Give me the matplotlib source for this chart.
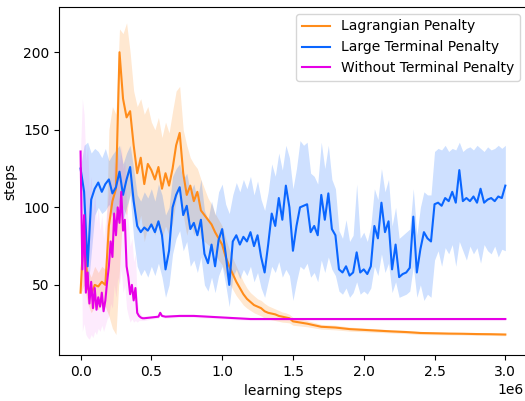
"""Training curves: episode length vs learning steps for three penalty designs."""

import numpy as np
import matplotlib
matplotlib.use("Agg")
import matplotlib.pyplot as plt
from matplotlib.ticker import MultipleLocator

# x in units of 1e6 learning steps
blue_x = [i * 0.025 for i in range(121)]
blue_mean = [125, 110, 62, 105, 112, 116, 110, 115, 118, 109, 113, 123, 108, 118, 126, 104,
             88, 84, 87, 85, 89, 84, 91, 82, 60, 72, 100, 108, 113, 95, 101, 86,
             90, 82, 92, 70, 64, 76, 62, 79, 86, 70, 50, 78, 82, 76, 81, 78,
             84, 75, 82, 68, 58, 76, 96, 88, 106, 92, 114, 100, 72, 88, 100, 101,
             102, 84, 88, 82, 108, 92, 109, 86, 82, 60, 58, 62, 56, 58, 71, 58,
             60, 57, 62, 88, 80, 103, 84, 91, 60, 76, 55, 57, 58, 61, 94, 58,
             73, 84, 80, 78, 102, 103, 101, 106, 104, 110, 103, 124, 104, 106, 104, 107,
             103, 112, 103, 105, 106, 104, 107, 106, 114]
blue_hi = [126, 140, 142, 135, 138, 136, 132, 138, 130, 134, 137, 140, 128, 135, 140, 125,
           108, 104, 110, 106, 112, 104, 115, 108, 95, 100, 120, 125, 128, 118, 122, 110,
           115, 105, 118, 98, 92, 104, 95, 110, 115, 102, 96, 108, 116, 110, 118, 112,
           120, 108, 117, 105, 98, 110, 128, 120, 135, 124, 140, 132, 112, 125, 143, 140,
           142, 122, 120, 115, 142, 125, 140, 118, 112, 85, 80, 92, 78, 82, 115, 80,
           84, 78, 88, 112, 105, 125, 110, 118, 88, 100, 80, 82, 84, 86, 112, 82,
           100, 110, 108, 108, 136, 138, 137, 140, 136, 138, 137, 142, 136, 138, 139, 137,
           140, 138, 136, 139, 137, 138, 140, 138, 140]
blue_lo = [124, 80, 45, 70, 95, 100, 96, 98, 102, 94, 98, 104, 92, 100, 108, 80,
           62, 56, 60, 55, 62, 56, 64, 55, 42, 50, 70, 80, 85, 72, 78, 62,
           66, 58, 68, 50, 46, 55, 45, 56, 62, 50, 36, 55, 60, 54, 60, 56,
           62, 52, 58, 48, 42, 52, 62, 58, 65, 55, 60, 56, 40, 52, 62, 60,
           64, 55, 58, 52, 66, 58, 68, 60, 56, 46, 44, 48, 42, 45, 52, 44,
           46, 44, 48, 62, 56, 70, 58, 64, 45, 52, 42, 43, 44, 46, 62, 42,
           50, 40, 44, 42, 66, 72, 62, 74, 70, 76, 62, 78, 72, 66, 75, 70,
           74, 64, 76, 72, 70, 75, 68, 73, 72]

orange_x = [i * 0.025 for i in range(61)] + [1.6, 1.7, 1.8, 1.9, 2.0, 2.1, 2.2, 2.3,
                                             2.4, 2.5, 2.6, 2.7, 2.8, 2.9, 3.0]
orange_mean = [45, 90, 48, 44, 50, 49, 52, 50, 88, 104, 112, 200, 170, 158, 162, 140,
               122, 132, 115, 128, 124, 118, 126, 112, 122, 114, 125, 140, 148, 122, 108, 114,
               104, 110, 98, 95, 92, 89, 84, 80, 76, 68, 62, 57, 52, 48, 44, 41,
               39, 37, 36, 35, 33, 32, 31.5, 31, 30, 29.5, 29, 28.5, 26.5,
               25, 23, 22.5, 21.5, 21, 20.5, 20, 19.6, 19, 18.8, 18.6, 18.5, 18.3, 18.2, 18]
orange_hi = [46, 95, 60, 55, 62, 58, 62, 60, 150, 165, 160, 215, 212, 219, 200, 175,
             165, 170, 160, 165, 155, 150, 158, 145, 155, 148, 162, 175, 178, 150, 140, 132,
             128, 125, 118, 112, 106, 102, 96, 92, 88, 80, 73, 67, 62, 57, 52, 48,
             45, 43, 41, 40, 38, 36.5, 35.5, 34.5, 33.5, 32.5, 32, 31, 29,
             27, 24.5, 24, 22.8, 22.2, 21.6, 21, 20.6, 20, 19.7, 19.4, 19.3, 19.1, 19, 18.8]
orange_lo = [44, 50, 38, 32, 36, 34, 38, 36, 30, 22, 18, 60, 100, 95, 110, 100,
             85, 95, 78, 88, 90, 82, 92, 80, 88, 82, 90, 105, 115, 95, 82, 92,
             82, 90, 80, 78, 76, 74, 70, 66, 63, 56, 51, 47, 43, 40, 37, 35,
             33.5, 32, 31, 30, 28.5, 28, 27.5, 27, 26.5, 26, 25.8, 25.5, 24,
             23, 21.5, 21, 20.2, 19.8, 19.4, 19, 18.6, 18, 17.9, 17.8, 17.7, 17.5, 17.4, 17.2]

magenta_x = [i * 0.0125 for i in range(37)] + [0.5, 0.55, 0.5625, 0.575, 0.6, 0.7, 0.8,
                                               0.9, 1.0, 1.1, 1.2, 1.4, 1.6, 1.8, 2.0,
                                               2.2, 2.4, 2.6, 2.8, 3.0]
magenta_mean = [136, 60, 95, 45, 58, 38, 52, 35, 48, 34, 42, 36, 45, 33, 40, 52,
                62, 78, 68, 96, 82, 100, 90, 110, 85, 92, 62, 55, 44, 50, 40, 48,
                32, 30, 29, 28.5, 28.5,
                29, 29.5, 32, 30, 29.5, 30, 30, 29.5, 29, 28.5, 28, 28, 28, 28, 28,
                28, 28, 28, 28, 28]
magenta_hi = [137, 170, 160, 130, 140, 110, 120, 95, 110, 90, 100, 85, 95, 80, 90, 100,
              110, 120, 112, 130, 125, 135, 128, 140, 125, 130, 100, 90, 75, 80, 65, 70,
              40, 34, 31, 30, 30,
              30, 30.5, 33, 31, 30.5, 31, 31, 30.5, 30, 29.5, 29, 29, 29, 29, 29,
              29, 29, 29, 29, 29]
magenta_lo = [135, 20, 25, 18, 16, 15, 18, 16, 20, 18, 22, 20, 24, 20, 24, 28,
              30, 38, 35, 50, 42, 55, 50, 60, 45, 50, 35, 30, 26, 28, 26, 27,
              26, 27, 27, 27, 27,
              28, 28.5, 31, 29, 28.5, 29, 29, 28.5, 28, 27.5, 27, 27, 27, 27, 27,
              27, 27, 27, 27, 27]

SERIES = [
    ("Lagrangian Penalty", "#ff8c1a", orange_x, orange_mean, orange_lo, orange_hi, 0.2),
    ("Large Terminal Penalty", "#0a66ff", blue_x, blue_mean, blue_lo, blue_hi, 0.2),
    ("Without Terminal Penalty", "#e600e6", magenta_x, magenta_mean, magenta_lo, magenta_hi, 0.08),
]

fig = plt.figure(figsize=(5.25, 4.01), dpi=100)
ax = fig.add_axes([0.113, 0.1147, 0.89, 0.868])

for name, color, x, m, lo, hi, a in SERIES:
    x = np.array(x) * 1e6
    ax.fill_between(x, lo, hi, color=color, alpha=a, lw=0)
    ax.plot(x, m, color=color, lw=1.5, label=name)

ax.yaxis.set_major_locator(MultipleLocator(50))
ax.set_xlabel("learning steps")
ax.set_ylabel("steps")
ax.legend(loc="upper right")
ax.xaxis.get_offset_text().set_x(0.994)   # keep "1e6" inside the canvas

fig.savefig("out.png", dpi=100)
